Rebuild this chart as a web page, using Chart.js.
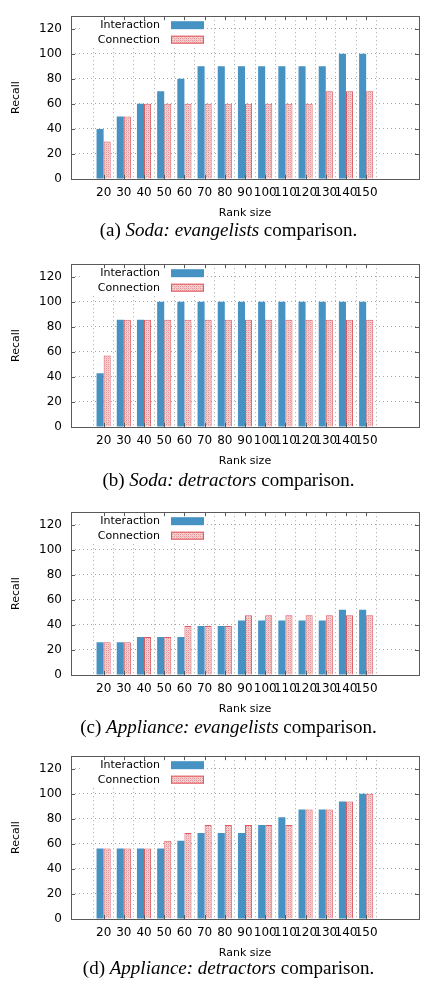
<!DOCTYPE html>
<html>
<head>
<meta charset="utf-8">
<script src="https://cdn.jsdelivr.net/npm/chart.js@4.4.1/dist/chart.umd.min.js"></script>
<style>
  html, body { margin: 0; padding: 0; background: #fff; }
  body { width: 429px; height: 986px; position: relative; overflow: hidden; }
  .panel { position: absolute; left: 0; width: 429px; height: 222px; }
  .cap {
    position: absolute; left: 0; width: 457px; text-align: center;
    font-family: 'Liberation Serif', serif; font-size: 19px; line-height: 22px; color: #000;
  }
</style>
</head>
<body>
<div class="panel" style="top:0"><canvas id="chartA"></canvas></div>
<div class="cap" style="top:219px">(a) <i>Soda: evangelists</i> comparison.</div>
<div class="panel" style="top:248px"><canvas id="chartB"></canvas></div>
<div class="cap" style="top:469px">(b) <i>Soda: detractors</i> comparison.</div>
<div class="panel" style="top:496px"><canvas id="chartC"></canvas></div>
<div class="cap" style="top:716px">(c) <i>Appliance: evangelists</i> comparison.</div>
<div class="panel" style="top:740px"><canvas id="chartD"></canvas></div>
<div class="cap" style="top:957px">(d) <i>Appliance: detractors</i> comparison.</div>

<script>
// ── Data ────────────────────────────────────────────────────────────────────
const rankSizes = ['20', '30', '40', '50', '60', '70', '80', '90', '100', '110', '120', '130', '140', '150'];
const recallTicks = [0, 20, 40, 60, 80, 100, 120];
const seriesNames = ['Interaction', 'Connection'];

// (a) Soda: evangelists
const sodaEvInteraction = [40, 50, 60, 70, 80, 90, 90, 90, 90, 90, 90, 90, 100, 100];
const sodaEvConnection  = [30, 50, 60, 60, 60, 60, 60, 60, 60, 60, 60, 70, 70, 70];

// (b) Soda: detractors
const sodaDeInteraction = [42.9, 85.7, 85.7, 100, 100, 100, 100, 100, 100, 100, 100, 100, 100, 100];
const sodaDeConnection  = [57.1, 85.7, 85.7, 85.7, 85.7, 85.7, 85.7, 85.7, 85.7, 85.7, 85.7, 85.7, 85.7, 85.7];

// (c) Appliance: evangelists
const applEvInteraction = [26.1, 26.1, 30.4, 30.4, 30.4, 39.1, 39.1, 43.5, 43.5, 43.5, 43.5, 43.5, 52.2, 52.2];
const applEvConnection  = [26.1, 26.1, 30.4, 30.4, 39.1, 39.1, 39.1, 47.8, 47.8, 47.8, 47.8, 47.8, 47.8, 47.8];

// (d) Appliance: detractors
const applDeInteraction = [56.25, 56.25, 56.25, 56.25, 62.5, 68.75, 68.75, 68.75, 75, 81.25, 87.5, 87.5, 93.75, 100];
const applDeConnection  = [56.25, 56.25, 56.25, 62.5, 68.75, 75, 75, 75, 75, 75, 87.5, 87.5, 93.75, 100];

// ── Styles ──────────────────────────────────────────────────────────────────
const BLUE = '#4592c3';
const PINK_EDGE = '#e05a62';
const TEXT = '#000';
const GRID = '#a8a8a8';
const FONT = "'DejaVu Sans', sans-serif";

// light pink cross-hatch like gnuplot's pattern fill
function makeHatch() {
  const c = document.createElement('canvas');
  c.width = 4; c.height = 4;
  const g = c.getContext('2d');
  g.fillStyle = '#f5d0d0';
  g.fillRect(0, 0, 4, 4);
  g.fillStyle = '#e59597';
  g.fillRect(0, 0, 1, 1); g.fillRect(2, 2, 1, 1);
  g.fillRect(2, 0, 1, 1); g.fillRect(0, 2, 1, 1);
  g.fillStyle = '#efb6b7';
  g.fillRect(1, 1, 1, 1); g.fillRect(3, 3, 1, 1);
  return g.createPattern(c, 'repeat');
}
const HATCH = makeHatch();

// ── Plugin: gnuplot-style box, inner ticks and key on the left ──────────────
const gnuplotFrame = {
  id: 'gnuplotFrame',
  beforeDatasetsDraw(chart) {
    const { ctx, chartArea: a } = chart;
    ctx.save();
    ctx.fillStyle = '#fff';
    ctx.fillRect(a.left + 12, a.top + 1, 124, 29);
    ctx.restore();
  },
  afterDraw(chart) {
    const { ctx, chartArea: a, scales } = chart;
    ctx.save();
    ctx.strokeStyle = '#5a5a5a';
    ctx.lineWidth = 1;
    ctx.strokeRect(Math.round(a.left) + 0.5, Math.round(a.top) + 0.5,
                   Math.round(a.right - a.left), Math.round(a.bottom - a.top));
    ctx.beginPath();
    scales.x.ticks.forEach(t => {
      const px = Math.round(scales.x.getPixelForValue(t.value)) + 0.5;
      ctx.moveTo(px, a.bottom); ctx.lineTo(px, a.bottom - 4);
      ctx.moveTo(px, a.top);    ctx.lineTo(px, a.top + 4);
    });
    scales.y.ticks.forEach(t => {
      const py = Math.round(scales.y.getPixelForValue(t.value)) + 0.5;
      ctx.moveTo(a.left, py);  ctx.lineTo(a.left + 4, py);
      ctx.moveTo(a.right, py); ctx.lineTo(a.right - 4, py);
    });
    ctx.stroke();

    // key
    ctx.font = '11px ' + FONT;
    ctx.textAlign = 'right';
    ctx.textBaseline = 'middle';
    chart.data.datasets.forEach((ds, i) => {
      const cy = a.top + 9 + i * 14.5;
      ctx.fillStyle = TEXT;
      ctx.fillText(ds.label, a.left + 89, cy);
      const sx = a.left + 100, sw = 33, sh = 8;
      ctx.fillStyle = ds.backgroundColor;
      ctx.fillRect(sx, cy - sh / 2, sw, sh);
      if (ds.borderWidth) {
        ctx.strokeStyle = ds.borderColor;
        ctx.strokeRect(sx + 0.5, cy - sh / 2 + 0.5, sw - 1, sh - 1);
      }
    });
    ctx.restore();
  },
};

function renderPanel(id, interaction, connection) {
  const canvas = document.getElementById(id);
  return new Chart(canvas, {
    type: 'bar',
    data: {
      datasets: [
        {
          label: seriesNames[0],
          data: interaction.map((v, i) => ({ x: i, y: v })),
          backgroundColor: BLUE,
          borderWidth: 0,
        },
        {
          label: seriesNames[1],
          data: connection.map((v, i) => ({ x: i, y: v })),
          backgroundColor: HATCH,
          borderColor: PINK_EDGE,
          borderWidth: 1,
          borderSkipped: 'start',
        },
      ],
    },
    options: {
      responsive: true,
      maintainAspectRatio: false,
      animation: false,
      events: [],
      layout: { padding: { top: 15, right: 10, left: 0, bottom: 0 } },
      datasets: { bar: { categoryPercentage: 0.7, barPercentage: 1.0 } },
      plugins: { legend: { display: false }, tooltip: { enabled: false } },
      scales: {
        x: {
          type: 'linear',
          min: -1,
          max: 15,
          afterBuildTicks: s => { s.ticks = rankSizes.map((_, i) => ({ value: i })); },
          afterFit: s => { s.height = 43; },
          border: { display: false, dash: [1, 3] },
          grid: { color: GRID, lineWidth: 1, drawTicks: false },
          ticks: {
            autoSkip: false, maxRotation: 0, padding: 7, color: TEXT,
            font: { family: FONT, size: 12 },
            callback: v => rankSizes[v] ?? '',
          },
          title: {
            display: true, text: 'Rank size', color: TEXT,
            font: { family: FONT, size: 11 }, padding: { top: 0, bottom: 2 },
          },
        },
        y: {
          min: 0,
          max: 130,
          afterBuildTicks: s => { s.ticks = recallTicks.map(v => ({ value: v })); },
          afterFit: s => { s.width = 71; },
          border: { display: false, dash: [1, 3] },
          grid: { color: GRID, lineWidth: 1, drawTicks: false },
          ticks: { padding: 9, color: TEXT, font: { family: FONT, size: 12 } },
          title: {
            display: true, text: 'Recall', color: TEXT,
            font: { family: FONT, size: 11 }, padding: { top: 10, bottom: 0 },
          },
        },
      },
    },
    plugins: [gnuplotFrame],
  });
}

renderPanel('chartA', sodaEvInteraction, sodaEvConnection);
renderPanel('chartB', sodaDeInteraction, sodaDeConnection);
renderPanel('chartC', applEvInteraction, applEvConnection);
renderPanel('chartD', applDeInteraction, applDeConnection);
</script>
</body>
</html>
